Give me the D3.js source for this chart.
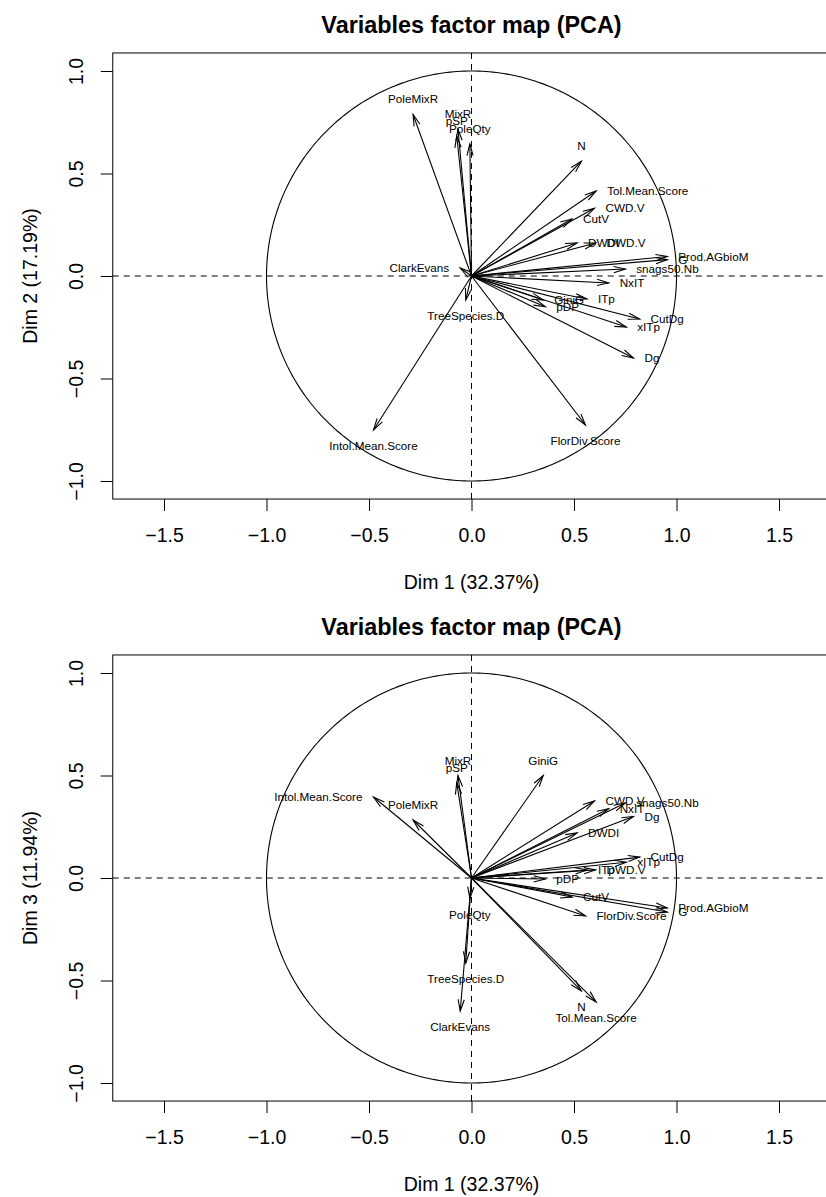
<!DOCTYPE html>
<html>
<head>
<meta charset="utf-8">
<script src="https://cdn.jsdelivr.net/npm/d3@7/dist/d3.min.js"></script>
<style>
  html, body { margin: 0; padding: 0; background: #ffffff; }
  svg { display: block; font-family: "Liberation Sans", Arial, Helvetica, sans-serif; }
</style>
</head>
<body>
<svg id="chart" width="826" height="1197"></svg>
<script>
// ---------------- data ----------------
const variables = ["Intol.Mean.Score","PoleMixR","MixR","pSP","PoleQty","ClarkEvans","TreeSpecies.D",
  "N","Tol.Mean.Score","CWD.V","CutV","DWDI","DWD.V","Prod.AGbioM","G","snags50.Nb","NxIT","ITp",
  "GiniG","pDP","CutDg","xITp","Dg","FlorDiv.Score"];
const dim1 = [-0.478,-0.285,-0.066,-0.072,-0.008,-0.055,-0.028,
  0.536,0.608,0.600,0.490,0.515,0.605,0.955,0.955,0.750,0.669,0.563,
  0.350,0.360,0.820,0.755,0.790,0.556];
const dim2 = [-0.751,0.788,0.717,0.683,0.644,0.039,-0.117,
  0.560,0.415,0.330,0.278,0.161,0.161,0.095,0.080,0.034,-0.034,-0.112,
  -0.117,-0.150,-0.210,-0.249,-0.400,-0.727];
const dim3 = [0.395,0.283,0.500,0.465,-0.100,-0.649,-0.415,
  -0.551,-0.605,0.376,-0.093,0.220,0.039,-0.146,-0.166,0.366,0.338,0.039,
  0.500,-0.005,0.102,0.077,0.300,-0.185];
// label side (R "pos" codes: 1 below, 2 left, 3 above, 4 right)
const labelSideDim2 = [1,3,3,3,3,2,1, 3,4,4,4,4,4,4,4,4,4,4, 4,4,4,4,4,1];
const labelSideDim3 = [2,3,3,3,1,1,1, 1,1,4,4,4,4,4,4,4,4,4, 3,4,4,4,4,4];
const xTickValues = [-1.5,-1.0,-0.5,0.0,0.5,1.0,1.5];
const yTickValues = [-1.0,-0.5,0.0,0.5,1.0];
const chartTitle = "Variables factor map (PCA)";
const xTitle = "Dim 1 (32.37%)";
const yTitles = ["Dim 2 (17.19%)", "Dim 3 (11.94%)"];

// ---------------- layout ----------------
const svg = d3.select("#chart");
svg.append("rect").attr("width",826).attr("height",1197).attr("fill","#fff");

const PX = 205;             // pixels per unit
const x0 = 471.5;           // x of 0
const xHalf = 1.75, yHalf = 1.088;
const panels = [
  { cy: 276, ys: dim2, sides: labelSideDim2, ytitle: yTitles[0] },
  { cy: 878, ys: dim3, sides: labelSideDim3, ytitle: yTitles[1] }
];
const baseFont = 19.5;
const fmt = d3.format(".1f");

panels.forEach(p => {
  const x = d3.scaleLinear().domain([-xHalf, xHalf]).range([x0 - xHalf*PX, x0 + xHalf*PX]);
  const y = d3.scaleLinear().domain([-yHalf, yHalf]).range([p.cy + yHalf*PX, p.cy - yHalf*PX]);
  const left = x(-xHalf), right = x(xHalf), top = y(yHalf), bottom = y(-yHalf);
  const g = svg.append("g");

  // dashed axes lines
  g.append("line").attr("x1", left).attr("x2", right).attr("y1", y(0)).attr("y2", y(0))
    .attr("stroke","#000").attr("stroke-width",1).attr("stroke-dasharray","6,5");
  g.append("line").attr("x1", x(0)).attr("x2", x(0)).attr("y1", top).attr("y2", bottom)
    .attr("stroke","#000").attr("stroke-width",1).attr("stroke-dasharray","6,5");

  // unit circle
  const circ = d3.range(0, 361, 1).map(a => [Math.cos(a*Math.PI/180), Math.sin(a*Math.PI/180)]);
  g.append("path").attr("d", d3.line().x(d => x(d[0])).y(d => y(d[1]))(circ))
    .attr("fill","none").attr("stroke","#000").attr("stroke-width",1.1);

  // arrows
  const headLen = 12, headAng = 15*Math.PI/180;
  variables.forEach((name, i) => {
    const tx = x(dim1[i]), ty = y(p.ys[i]);
    const ox = x(0), oy = y(0);
    g.append("line").attr("x1", ox).attr("y1", oy).attr("x2", tx).attr("y2", ty)
      .attr("stroke","#000").attr("stroke-width",1.1);
    const ang = Math.atan2(ty - oy, tx - ox);
    const a1 = ang + Math.PI - headAng, a2 = ang + Math.PI + headAng;
    g.append("path")
      .attr("d", `M${tx + headLen*Math.cos(a1)},${ty + headLen*Math.sin(a1)}L${tx},${ty}L${tx + headLen*Math.cos(a2)},${ty + headLen*Math.sin(a2)}`)
      .attr("fill","none").attr("stroke","#000").attr("stroke-width",1.1);
    // label
    const side = p.sides[i];
    let lx = tx, ly = ty, anchor = "middle";
    if (side === 3) { ly = ty - 11; }
    else if (side === 1) { ly = ty + 20; }
    else if (side === 4) { lx = tx + 11; ly = ty + 4; anchor = "start"; }
    else if (side === 2) { lx = tx - 11; ly = ty + 4; anchor = "end"; }
    g.append("text").attr("x", lx).attr("y", ly).attr("text-anchor", anchor)
      .attr("font-size", 11.7).attr("fill","#000").text(name);
  });

  // box
  g.append("rect").attr("x", left).attr("y", top).attr("width", right-left).attr("height", bottom-top)
    .attr("fill","none").attr("stroke","#000").attr("stroke-width",1);

  // x axis
  const xa = g.append("g").attr("transform", `translate(0,${bottom})`)
    .call(d3.axisBottom(x).tickValues(xTickValues).tickFormat(fmt).tickSize(12).tickSizeOuter(0).tickPadding(17));
  xa.select(".domain").remove();
  xa.selectAll("line").attr("stroke","#000");
  xa.selectAll("text").attr("font-size", baseFont).attr("font-family", null).attr("fill","#000");

  // y axis
  const ya = g.append("g").attr("transform", `translate(${left},0)`)
    .call(d3.axisLeft(y).tickValues(yTickValues).tickFormat(fmt).tickSize(12).tickSizeOuter(0));
  ya.select(".domain").remove();
  ya.selectAll("line").attr("stroke","#000");
  ya.selectAll("text").attr("x", null).attr("dy", null).attr("font-family", null)
    .attr("font-size", baseFont).attr("fill","#000")
    .attr("text-anchor","middle")
    .attr("transform","translate(-30,0) rotate(-90)");

  // titles
  g.append("text").attr("x", x0).attr("y", top - 20).attr("text-anchor","middle")
    .attr("font-size", 23.4).attr("font-weight","bold").attr("fill","#000").text(chartTitle);
  g.append("text").attr("x", x0).attr("y", bottom + 90).attr("text-anchor","middle")
    .attr("font-size", baseFont).attr("fill","#000").text(xTitle);
  g.append("text").attr("transform", `translate(37,${(top+bottom)/2}) rotate(-90)`)
    .attr("text-anchor","middle").attr("font-size", baseFont).attr("fill","#000").text(p.ytitle);
});
</script>
</body>
</html>
